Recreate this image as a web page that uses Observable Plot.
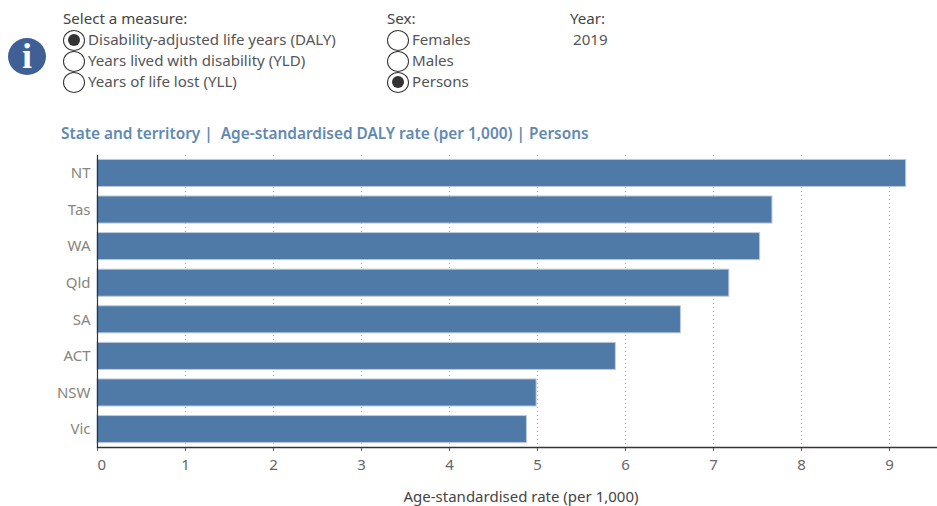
<!DOCTYPE html>
<html>
<head>
<meta charset="utf-8">
<script src="https://cdn.jsdelivr.net/npm/d3@7"></script>
<script src="https://cdn.jsdelivr.net/npm/@observablehq/plot@0.6"></script>
<style>
  html, body { margin: 0; padding: 0; background: #fff; }
  body { width: 937px; height: 506px; overflow: hidden; font-family: "Noto Sans", sans-serif; position: relative; }
  #controls { position: relative; width: 937px; height: 155px; }
  #controls .t { position: absolute; font-size: 15.1px; line-height: 17px; color: #555; white-space: nowrap; }
  #controls .h { color: #444; }
  .radio { position: absolute; width: 22px; height: 21px; border: 1.2px solid #333; border-radius: 50%; background: #fff; box-sizing: border-box; }
  .radio.on::after { content: ""; position: absolute; left: 3.8px; top: 3.4px; width: 12px; height: 12px; border-radius: 50%; background: #333; }
  #info { position: absolute; left: 8px; top: 38px; width: 38px; height: 37px; border-radius: 50%; background: #3f5f95; color: #fff; font: bold 36px/37px "Liberation Serif", serif; text-align: center; }
  #title { position: absolute; left: 61px; top: 123.5px; font-size: 15.4px; line-height: 20px; font-weight: 600; color: #6189b2; white-space: pre; }
  #chart svg { display: block; }
</style>
</head>
<body>
<div id="controls"></div>
<div id="chart"></div>
<script>
// Age-standardised DALY rate per 1,000, persons, 2019
const states = ["NT", "Tas", "WA", "Qld", "SA", "ACT", "NSW", "Vic"];
const rates = [9.19, 7.67, 7.53, 7.18, 6.63, 5.89, 4.99, 4.88];
const xTicks = [0, 1, 2, 3, 4, 5, 6, 7, 8, 9];
const xLabel = "Age-standardised rate (per 1,000)";

const measures = ["Disability-adjusted life years (DALY)", "Years lived with disability (YLD)", "Years of life lost (YLL)"];
const sexes = ["Females", "Males", "Persons"];

const rows = states.map((state, i) => ({state, rate: rates[i]}));

// Filter panel above the chart
const controls = d3.select("#controls");
controls.append("div").attr("id", "info").text("i");

const label = (text, left, top, cls = "t") =>
  controls.append("div").attr("class", cls).style("left", left + "px").style("top", top + "px").text(text);

const radioGroup = (items, selected, left) => items.forEach((item, i) => {
  const top = 29.5 + i * 21;
  controls.append("div").attr("class", item === selected ? "radio on" : "radio")
    .style("left", left + "px").style("top", top + "px");
  label(item, left + 25, top + 1);
});

label("Select a measure:", 63, 10, "t h");
radioGroup(measures, measures[0], 63);
label("Sex:", 387, 10, "t h");
radioGroup(sexes, "Persons", 387);
label("Year:", 570, 10, "t h");
label("2019", 573, 31);

controls.append("div").attr("id", "title")
  .text("State and territory |  Age-standardised DALY rate (per 1,000) | Persons");

// Horizontal bars, longest first
const plot = Plot.plot({
  width: 937,
  height: 351,
  marginLeft: 97,
  marginRight: 0,
  marginTop: 0,
  marginBottom: 59,
  style: {fontFamily: "Noto Sans, sans-serif", fontSize: "15px", background: "#fff"},
  x: {domain: [0, 839 / 88], range: [97, 936]},
  y: {domain: states, paddingInner: 0.26, paddingOuter: 0.12, round: false},
  marks: [
    Plot.ruleX(xTicks.slice(1), {stroke: "#b4b4b4", strokeWidth: 1, strokeDasharray: "1 3"}),
    Plot.barX(rows, {x: "rate", y: "state", fill: "#4f79a7", stroke: "#bccbdc", strokeWidth: 1}),
    Plot.axisY({tickSize: 0, tickPadding: 7, label: null, color: "#85857d"}),
    Plot.axisX({ticks: xTicks.slice(1), tickSize: 4, tickPadding: 8, color: "#666", label: null}),
    // The zero label sits just right of the axis instead of centred on it
    Plot.axisX({ticks: [0], tickSize: 4, tickPadding: 8, color: "#666", textAnchor: "start", label: null}),
    Plot.text([xLabel], {text: d => d, frameAnchor: "bottom", dx: 3.5, dy: 54, fill: "#444"}),
    Plot.ruleX([0], {stroke: "#333", strokeWidth: 1.2}),
    Plot.frame({anchor: "bottom", stroke: "#333", strokeWidth: 1.4})
  ]
});
document.getElementById("chart").append(plot);
</script>
</body>
</html>
